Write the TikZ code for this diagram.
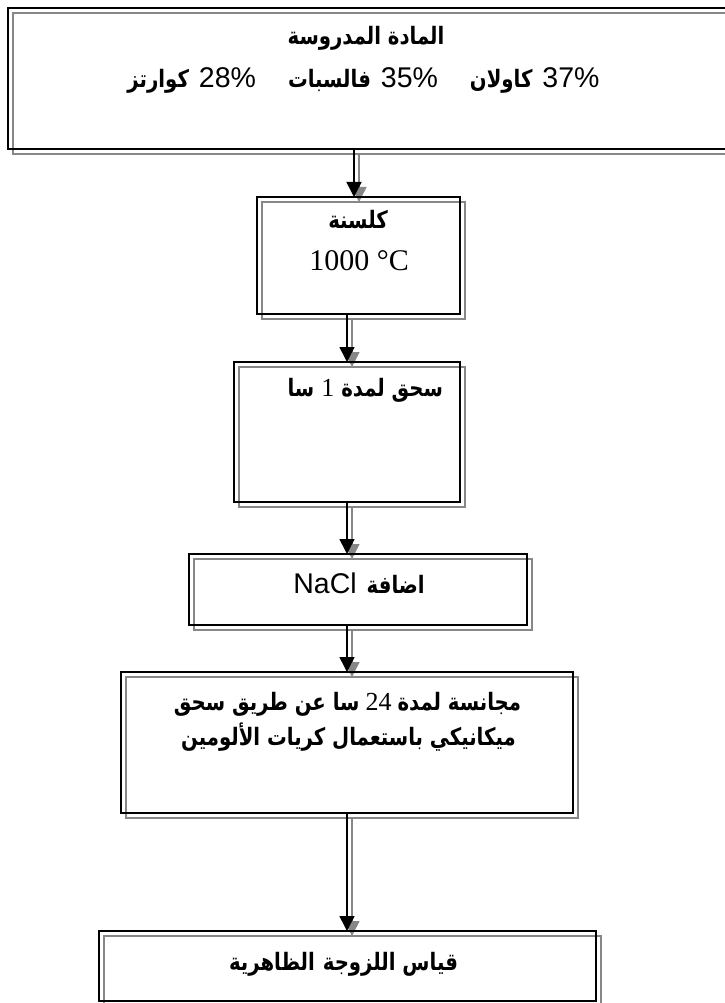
\documentclass[tikz,border=0pt]{standalone}
\usepackage{fontspec}
\usetikzlibrary{arrows.meta,calc}
\TeXXeTstate=1
\newfontfamily\arabicfont[Script=Arabic,FakeStretch=0.82]{DejaVu Sans}
\newfontfamily\arialfont{Liberation Sans}
\newfontfamily\tnrfont{Liberation Serif}
\definecolor{sgray}{RGB}{135,135,135}
\newcommand\AR[1]{{\arabicfont\bfseries\fontsize{24}{28}\selectfont\beginR #1\endR}}
\newcommand\NA[1]{{\arialfont\mdseries\fontsize{28.5}{32}\selectfont #1}}
\newcommand\NT[1]{{\tnrfont\mdseries\fontsize{26}{30}\selectfont #1}}
\pgfdeclarelayer{bg}
\pgfsetlayers{bg,main}
\tikzset{
  box/.style={draw=black, line width=1.5pt, inner sep=0pt, outer sep=0pt, rectangle},
  shadowline/.style={draw=sgray, line width=1.5pt},
  txt/.style={inner sep=0pt, outer sep=0pt, anchor=base},
  arr/.style={draw=black, line width=1.5pt, -{Triangle[width=15pt,length=15pt]}},
  sarr/.style={draw=sgray, line width=1.5pt, -{Triangle[width=15pt,length=15pt]}},
}
\newcommand\shadowof[1]{\draw[shadowline] ($(#1.north west)+(5pt,-5pt)$) rectangle ($(#1.south east)+(5pt,-5pt)$);}
\newcommand\flowarrow[3]{%
  \draw[sarr] ($(#1 |- #2.south)+(5pt,-5pt)$) -- ($(#1 |- #3.north)+(5pt,-5pt)$);
}
\begin{document}
\begin{tikzpicture}[x=1pt,y=-1pt]
\useasboundingbox (0,0) rectangle (724,1003);
% boxes
\node[box, minimum width=732pt, minimum height=141pt] (b1) at (374,78.5) {};
\node[box, minimum width=203pt, minimum height=117pt] (b2) at (358.5,255.5) {};
\node[box, minimum width=226pt, minimum height=140pt] (b3) at (347,432) {};
\node[box, minimum width=338pt, minimum height=71pt] (b4) at (358,589.5) {};
\node[box, minimum width=452pt, minimum height=141pt] (b5) at (347,742.5) {};
\node[box, minimum width=497pt, minimum height=70pt] (b6) at (347.5,966) {};
% texts
\node[txt] (t1a) at (366,45) {\AR{المادة المدروسة}};
\node[txt] (t1b) at (363.5,88) {\AR{كوارتز}\hspace{10pt}\NA{28\%}\hspace{32pt}\AR{فالسبات}\hspace{10pt}\NA{35\%}\hspace{32pt}\AR{كاولان}\hspace{10pt}\NA{37\%}};
\node[txt] (t2a) at (358,228) {\AR{كلسنة}};
\node[txt] (t2b) at (359,270) {{\tnrfont\fontsize{30}{34}\selectfont 1000 °C}};
\node[txt, anchor=base east] (t3) at (443,396) {\AR{سا}\hspace{7pt}\NT{1}\hspace{7pt}\AR{سحق لمدة}};
\node[txt] (t4) at (359,593) {\NA{NaCl}\hspace{10pt}\AR{اضافة}};
\node[txt] (t5a) at (347.5,710) {\AR{سا عن طريق سحق}\hspace{6pt}\NT{24}\hspace{6pt}\AR{مجانسة لمدة}};
\node[txt] (t5b) at (348.5,745) {\AR{ميكانيكي باستعمال كريات الألومين}};
\node[txt] (t6) at (343.5,970) {\AR{قياس اللزوجة\hspace{8pt}الظاهرية}};
% arrow columns
\coordinate (c1) at (354,0);
\coordinate (c2) at (347,0);
% arrows
\draw[arr] (c1 |- b1.south) -- (c1 |- b2.north);
\draw[arr] (c2 |- b2.south) -- (c2 |- b3.north);
\draw[arr] (c2 |- b3.south) -- (c2 |- b4.north);
\draw[arr] (c2 |- b4.south) -- (c2 |- b5.north);
\draw[arr] (c2 |- b5.south) -- (c2 |- b6.north);
% shadows
\begin{pgfonlayer}{bg}
\shadowof{b1}\shadowof{b2}\shadowof{b3}\shadowof{b4}\shadowof{b5}\shadowof{b6}
\flowarrow{c1}{b1}{b2}
\flowarrow{c2}{b2}{b3}
\flowarrow{c2}{b3}{b4}
\flowarrow{c2}{b4}{b5}
\flowarrow{c2}{b5}{b6}
\end{pgfonlayer}
\end{tikzpicture}
\end{document}
